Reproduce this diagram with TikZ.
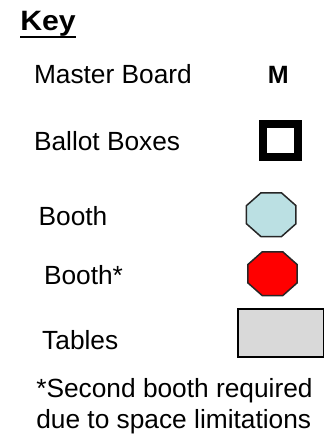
\documentclass[tikz,border=0pt]{standalone}
\usepackage{fontspec}
\setmainfont{Liberation Sans}
\usetikzlibrary{calc,shapes.geometric}

\definecolor{boothblue}{RGB}{187,224,227}
\definecolor{tablegray}{RGB}{217,217,217}

\begin{document}
\begin{tikzpicture}[
  x=1pt, y=-1pt,
  keylabel/.style={anchor=base west, inner sep=0pt, font=\fontsize{26.3}{31}\selectfont},
  ballotbox/.style={draw=black, line width=8pt, minimum width=34.4pt, minimum height=32.7pt, inner sep=0pt},
  boothbox/.style={draw=black!85, line width=1.5pt, regular polygon, regular polygon sides=8,
    minimum size=47.4pt, inner sep=0pt, xscale=1.13, transform shape},
  tablebox/.style={draw=black, line width=1.8pt, fill=tablegray, minimum width=85.8pt, minimum height=47.6pt, inner sep=0pt},
  every node/.style={outer sep=0pt}]
  % page frame
  \useasboundingbox (0,0) rectangle (333,441);
  % title
  \node[keylabel, font=\fontsize{28}{32}\bfseries, xscale=1.08, transform shape] (keytitle) at (20.3,31) {Key};
  \draw[line width=2pt] ($(keytitle.base west)+(0,6)$) -- ($(keytitle.base east)+(0,6)$);
  % master board
  \node[keylabel] (lblboard) at (34,84) {Master Board};
  \node[anchor=base, inner sep=0pt, font=\fontsize{25}{30}\bfseries] (symboard) at (278.3,83.3) {M};
  % ballot boxes
  \node[keylabel] (lblballot) at (34,150) {Ballot Boxes};
  \node[ballotbox] (symballot) at (280.5,140.4) {};
  % booths
  \node[keylabel] (lblbooth) at (38.6,225) {Booth};
  \node[boothbox, fill=boothblue] (symbooth) at (271.2,214.7) {};
  \node[keylabel] (lblboothb) at (44,284) {Booth*};
  \node[boothbox, fill=red] (symboothb) at (272.5,273.7) {};
  % tables
  \node[keylabel] (lbltables) at (42.2,349.3) {Tables};
  \node[tablebox] (symtables) at (280.5,333) {};
  % footnote
  \node[keylabel, align=left] (footnote) at (36.3,428.3) {*Second booth required\\due to space limitations};
\end{tikzpicture}
\end{document}
